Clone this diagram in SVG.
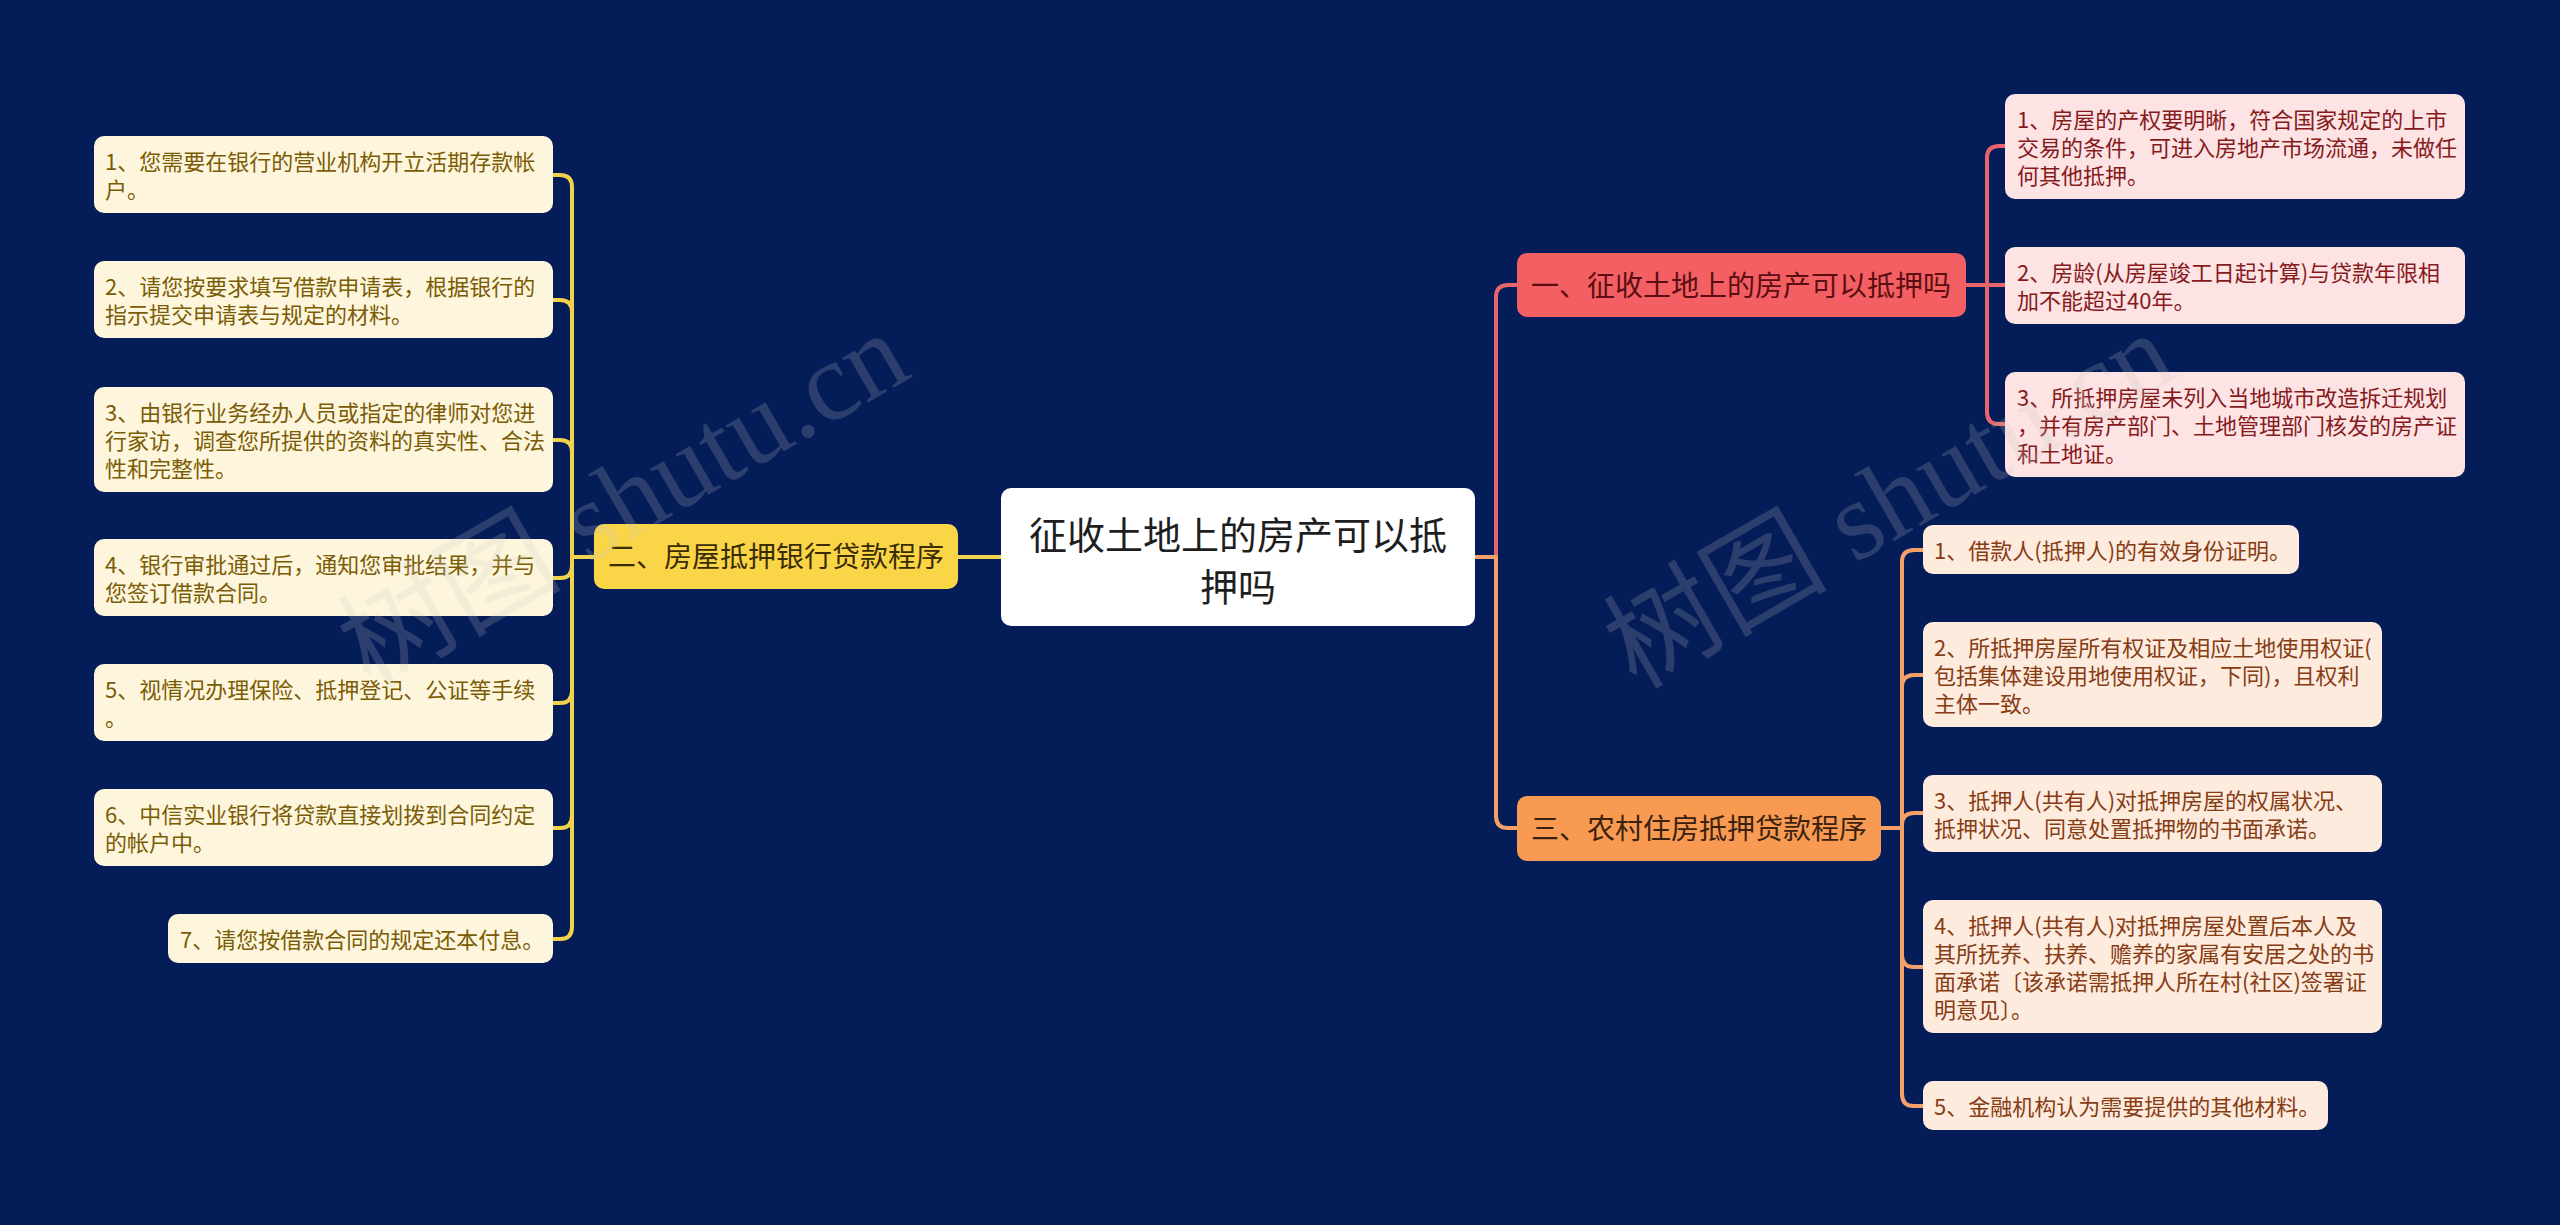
<svg xmlns="http://www.w3.org/2000/svg" width="2560" height="1225" viewBox="0 0 2560 1225">
<style>
text{font-family:"Noto Sans CJK SC","Noto Sans",sans-serif}
.lf{font-size:22px}
.br{font-size:28px}
.ct{font-size:38px;fill:#1e1e1e}
.c{fill:none;stroke-width:4;stroke-linejoin:round}
.y{stroke:#f2d14b}
.r{stroke:#e8666b}
.o{stroke:#f4a068}
.bl{fill:#fef6dc}.tl{fill:#7a5c06}
.bp{fill:#fde3e3}.tp{fill:#861a1c}
.bo{fill:#fdebde}.to{fill:#873c14}
.wm{font-family:"Liberation Serif","Noto Sans CJK SC",serif;font-size:112px;fill:#c8c8c8;opacity:0.2}
</style>
<rect width="2560" height="1225" fill="#041c58"/>
<g id="connectors">
<path class="c y" d="M1001 557H958"/>
<path class="c y" d="M594 557H572V187Q572 175 560 175H553"/>
<path class="c y" d="M594 557H572V312Q572 300 560 300H553"/>
<path class="c y" d="M594 557H572V452Q572 440 560 440H553"/>
<path class="c y" d="M594 557H572V566Q572 578 560 578H553"/>
<path class="c y" d="M594 557H572V691Q572 703 560 703H553"/>
<path class="c y" d="M594 557H572V816Q572 828 560 828H553"/>
<path class="c y" d="M594 557H572V927Q572 939 560 939H553"/>
<path class="c r" d="M1475 557H1496V297Q1496 285 1508 285H1517"/>
<path class="c o" d="M1475 557H1496V816Q1496 828 1508 828H1517"/>
<path class="c r" d="M1966 285H1987V158Q1987 146 1999 146H2005"/>
<path class="c r" d="M1966 285H2005"/>
<path class="c r" d="M1966 285H1987V412Q1987 424 1999 424H2005"/>
<path class="c o" d="M1881 828H1902V562Q1902 550 1914 550H1923"/>
<path class="c o" d="M1881 828H1902V687Q1902 675 1914 675H1923"/>
<path class="c o" d="M1881 828H1902V825Q1902 813 1914 813H1923"/>
<path class="c o" d="M1881 828H1902V955Q1902 967 1914 967H1923"/>
<path class="c o" d="M1881 828H1902V1094Q1902 1106 1914 1106H1923"/>
</g>
<g id="root">
<rect x="1001" y="488" width="474" height="138" rx="10" fill="#ffffff"/>
<text class="ct" x="1238" y="549" text-anchor="middle">征收土地上的房产可以抵</text>
<text class="ct" x="1238" y="601" text-anchor="middle">押吗</text>
</g>
<g id="b2">
<rect x="594" y="524" width="364" height="65" rx="10" fill="#fbd548"/>
<text class="br" x="776" y="567" text-anchor="middle" fill="#3a2c02">二、房屋抵押银行贷款程序</text>
</g>
<g id="b1">
<rect x="1517" y="253" width="449" height="64" rx="10" fill="#f35f62"/>
<text class="br" x="1741" y="296" text-anchor="middle" fill="#5a0e12">一、征收土地上的房产可以抵押吗</text>
</g>
<g id="b3">
<rect x="1517" y="796" width="364" height="65" rx="10" fill="#f89a52"/>
<text class="br" x="1699" y="839" text-anchor="middle" fill="#3b2210">三、农村住房抵押贷款程序</text>
</g>
<g id="l1"><rect class="bl" x="94" y="136" width="459" height="77" rx="10"/>
<text class="lf tl" x="105" y="170">1、您需要在银行的营业机构开立活期存款帐</text><text class="lf tl" x="105" y="198">户。</text></g>
<g id="l2"><rect class="bl" x="94" y="261" width="459" height="77" rx="10"/>
<text class="lf tl" x="105" y="295">2、请您按要求填写借款申请表，根据银行的</text><text class="lf tl" x="105" y="323">指示提交申请表与规定的材料。</text></g>
<g id="l3"><rect class="bl" x="94" y="387" width="459" height="105" rx="10"/>
<text class="lf tl" x="105" y="421">3、由银行业务经办人员或指定的律师对您进</text><text class="lf tl" x="105" y="449">行家访，调查您所提供的资料的真实性、合法</text><text class="lf tl" x="105" y="477">性和完整性。</text></g>
<g id="l4"><rect class="bl" x="94" y="539" width="459" height="77" rx="10"/>
<text class="lf tl" x="105" y="573">4、银行审批通过后，通知您审批结果，并与</text><text class="lf tl" x="105" y="601">您签订借款合同。</text></g>
<g id="l5"><rect class="bl" x="94" y="664" width="459" height="77" rx="10"/>
<text class="lf tl" x="105" y="698">5、视情况办理保险、抵押登记、公证等手续</text><text class="lf tl" x="105" y="726">。</text></g>
<g id="l6"><rect class="bl" x="94" y="789" width="459" height="77" rx="10"/>
<text class="lf tl" x="105" y="823">6、中信实业银行将贷款直接划拨到合同约定</text><text class="lf tl" x="105" y="851">的帐户中。</text></g>
<g id="l7"><rect class="bl" x="168" y="914" width="385" height="49" rx="10"/>
<text class="lf tl" x="180" y="948">7、请您按借款合同的规定还本付息。</text></g>
<g id="p1"><rect class="bp" x="2005" y="94" width="460" height="105" rx="10"/>
<text class="lf tp" x="2017" y="128">1、房屋的产权要明晰，符合国家规定的上市</text><text class="lf tp" x="2017" y="156">交易的条件，可进入房地产市场流通，未做任</text><text class="lf tp" x="2017" y="184">何其他抵押。</text></g>
<g id="p2"><rect class="bp" x="2005" y="247" width="460" height="77" rx="10"/>
<text class="lf tp" x="2017" y="281">2、房龄(从房屋竣工日起计算)与贷款年限相</text><text class="lf tp" x="2017" y="309">加不能超过40年。</text></g>
<g id="p3"><rect class="bp" x="2005" y="372" width="460" height="105" rx="10"/>
<text class="lf tp" x="2017" y="406">3、所抵押房屋未列入当地城市改造拆迁规划</text><text class="lf tp" x="2017" y="434">，并有房产部门、土地管理部门核发的房产证</text><text class="lf tp" x="2017" y="462">和土地证。</text></g>
<g id="o1"><rect class="bo" x="1923" y="525" width="376" height="49" rx="10"/>
<text class="lf to" x="1934" y="559">1、借款人(抵押人)的有效身份证明。</text></g>
<g id="o2"><rect class="bo" x="1923" y="622" width="459" height="105" rx="10"/>
<text class="lf to" x="1934" y="656">2、所抵押房屋所有权证及相应土地使用权证(</text><text class="lf to" x="1934" y="684">包括集体建设用地使用权证，下同)，且权利</text><text class="lf to" x="1934" y="712">主体一致。</text></g>
<g id="o3"><rect class="bo" x="1923" y="775" width="459" height="77" rx="10"/>
<text class="lf to" x="1934" y="809">3、抵押人(共有人)对抵押房屋的权属状况、</text><text class="lf to" x="1934" y="837">抵押状况、同意处置抵押物的书面承诺。</text></g>
<g id="o4"><rect class="bo" x="1923" y="900" width="459" height="133" rx="10"/>
<text class="lf to" x="1934" y="934">4、抵押人(共有人)对抵押房屋处置后本人及</text><text class="lf to" x="1934" y="962">其所抚养、扶养、赡养的家属有安居之处的书</text><text class="lf to" x="1934" y="990">面承诺〔该承诺需抵押人所在村(社区)签署证</text><text class="lf to" x="1934" y="1018">明意见〕。</text></g>
<g id="o5"><rect class="bo" x="1923" y="1081" width="405" height="49" rx="10"/>
<text class="lf to" x="1934" y="1115">5、金融机构认为需要提供的其他材料。</text></g>
<g id="watermark">
<text class="wm" x="370" y="690" transform="rotate(-30 370 690)">树图 shutu.cn</text>
<text class="wm" x="1636" y="690" transform="rotate(-30 1636 690)">树图 shutu.cn</text>
</g>
</svg>
